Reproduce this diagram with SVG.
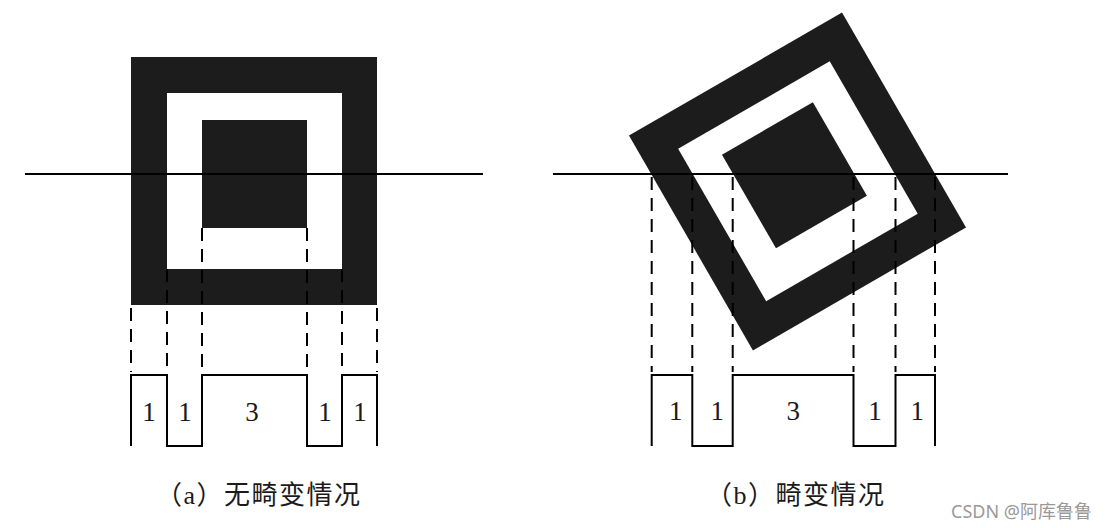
<svg xmlns="http://www.w3.org/2000/svg" width="1118" height="528" viewBox="0 0 1118 528">
<style>
.blk{fill:#1c1c1c}
.wht{fill:#fff}
.ln{stroke:#000;stroke-width:2;fill:none}
.dash{stroke:#000;stroke-width:2;stroke-dasharray:13 8;fill:none}
.num{font-family:"Liberation Serif",serif;font-size:27px;fill:#1a1a1a;text-anchor:middle}
.cap{font-family:"Liberation Serif","Noto Sans CJK SC",serif;font-size:26px;letter-spacing:1.5px;fill:#1a1a1a}
.wm{font-family:"Noto Sans","Noto Sans CJK SC",sans-serif;font-size:18px;fill:#999}
</style>
<rect width="1118" height="528" fill="#fff"/>
<g id="figure-a">
  <g id="a-squares">
    <rect class="blk" x="131" y="57" width="246" height="248"/>
    <rect class="wht" x="167" y="93" width="175" height="176"/>
    <rect class="blk" x="202" y="120" width="105" height="108"/>
  </g>
  <line id="a-scanline" class="ln" x1="25" y1="174" x2="483" y2="174"/>
  <g id="a-projections">
    <line class="dash" x1="131" y1="308" x2="131" y2="372"/>
    <line class="dash" x1="167" y1="269" x2="167" y2="372"/>
    <line class="dash" x1="202" y1="228" x2="202" y2="372"/>
    <line class="dash" x1="307" y1="228" x2="307" y2="372"/>
    <line class="dash" x1="342" y1="269" x2="342" y2="372"/>
    <line class="dash" x1="377" y1="308" x2="377" y2="372"/>
  </g>
  <path id="a-wave" class="ln" d="M131 446V375H167V446H202V375H307V446H342V375H377V446"/>
  <g id="a-labels">
    <text class="num" x="149" y="421">1</text>
    <text class="num" x="185" y="421">1</text>
    <text class="num" x="252" y="421">3</text>
    <text class="num" x="325" y="421">1</text>
    <text class="num" x="360" y="421">1</text>
  </g>
  <text id="a-caption" class="cap" x="156" y="504">（a）无畸变情况</text>
</g>
<g id="figure-b">
  <g id="b-squares" transform="translate(797.5 181.5) rotate(-30)">
    <rect class="blk" x="-123" y="-124" width="246" height="248"/>
    <rect class="wht" x="-87" y="-88" width="175" height="176"/>
    <rect class="blk" x="-52" y="-61" width="105" height="108"/>
  </g>
  <line id="b-scanline" class="ln" x1="553" y1="174" x2="1008" y2="174"/>
  <g id="b-projections">
    <line class="dash" x1="651.7" y1="177" x2="651.7" y2="372"/>
    <line class="dash" x1="692.3" y1="177" x2="692.3" y2="372"/>
    <line class="dash" x1="732.7" y1="177" x2="732.7" y2="372"/>
    <line class="dash" x1="853.5" y1="177" x2="853.5" y2="372"/>
    <line class="dash" x1="895.5" y1="177" x2="895.5" y2="372"/>
    <line class="dash" x1="935" y1="177" x2="935" y2="372"/>
  </g>
  <path id="b-wave" class="ln" d="M651.7 446V375H692.3V446H732.7V375H853.5V446H895.5V375H935V446"/>
  <g id="b-labels">
    <text class="num" x="675.7" y="420">1</text>
    <text class="num" x="717.3" y="420">1</text>
    <text class="num" x="793.3" y="420">3</text>
    <text class="num" x="875" y="420">1</text>
    <text class="num" x="917.3" y="420">1</text>
  </g>
  <text id="b-caption" class="cap" x="706" y="504">（b）畸变情况</text>
</g>
<text id="watermark" class="wm" x="951" y="518">CSDN @阿库鲁鲁</text>
</svg>
